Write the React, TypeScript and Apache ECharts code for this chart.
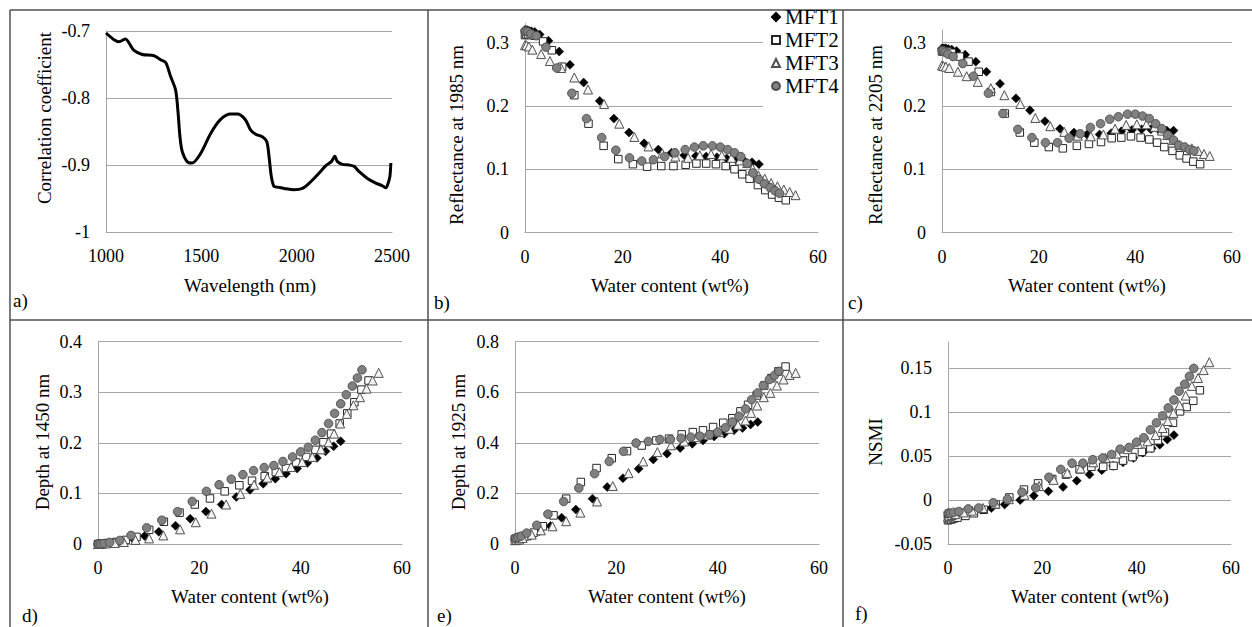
import React, { useEffect, useRef } from "react";
import * as echarts from "echarts";

// ---------- panel a: correlation coefficient vs wavelength ----------
const wavelength = [1000, 1042, 1068, 1103, 1121, 1147, 1190, 1252, 1287, 1313, 1339, 1365, 1378, 1388, 1400, 1426, 1452, 1496, 1549, 1601, 1654, 1689, 1730, 1759, 1785, 1820, 1843, 1855, 1867, 1881, 1899, 1934, 1987, 2030, 2074, 2118, 2153, 2182, 2200, 2214, 2240, 2275, 2301, 2328, 2371, 2415, 2450, 2468, 2480, 2489, 2494];
const correlation = [-0.703, -0.713, -0.716, -0.712, -0.718, -0.729, -0.735, -0.737, -0.743, -0.747, -0.768, -0.788, -0.822, -0.858, -0.880, -0.895, -0.897, -0.883, -0.853, -0.832, -0.824, -0.824, -0.832, -0.848, -0.854, -0.858, -0.865, -0.887, -0.917, -0.932, -0.933, -0.935, -0.937, -0.935, -0.925, -0.912, -0.901, -0.895, -0.887, -0.895, -0.899, -0.900, -0.902, -0.910, -0.920, -0.927, -0.931, -0.934, -0.927, -0.917, -0.897];

// ---------- water content (wt%) per sample set ----------
const waterMFT1 = [0, 0.4, 0.8, 1.3, 2, 3, 4.8, 7, 9.2, 12, 15.3, 18.2, 21.3, 24.4, 27.3, 30, 32.6, 35, 37.1, 39.3, 41.3, 43.2, 44.9, 46.5, 47.9];
const waterMFT2 = [0, 0.3, 0.7, 1.2, 2, 3.7, 5.5, 7.6, 10.1, 13, 16.1, 19.1, 22.1, 25, 27.9, 30.4, 32.9, 35.1, 37.1, 39.1, 41.1, 42.9, 44.5, 46, 47.7, 49.2, 50.6, 52, 53.4];
const waterMFT3 = [0, 0.3, 0.8, 1.5, 3.3, 5.1, 7.4, 10.1, 12.9, 16.2, 19.3, 22.4, 25.3, 28.1, 30.8, 33.4, 35.8, 38.1, 40.3, 42.3, 44, 45.5, 46.6, 47.8, 49.1, 50.4, 51.7, 53, 54.2, 55.4];
const waterMFT4 = [0, 0.2, 0.6, 1.2, 2.3, 4.3, 6.5, 9.6, 12.6, 15.7, 18.6, 21.4, 23.9, 26.3, 28.6, 30.7, 32.8, 34.7, 36.5, 38.4, 40, 41.5, 42.9, 44.2, 45.5, 46.7, 47.9, 49, 50.2, 51.2, 52.1];

// ---------- panel b: reflectance at 1985 nm ----------
const refl1985MFT1 = [0.320, 0.320, 0.319, 0.318, 0.317, 0.313, 0.303, 0.286, 0.265, 0.237, 0.208, 0.180, 0.158, 0.141, 0.131, 0.126, 0.122, 0.121, 0.120, 0.119, 0.117, 0.115, 0.113, 0.111, 0.108];
const refl1985MFT2 = [0.312, 0.313, 0.313, 0.312, 0.311, 0.302, 0.288, 0.262, 0.217, 0.172, 0.137, 0.116, 0.108, 0.104, 0.105, 0.105, 0.107, 0.109, 0.109, 0.108, 0.105, 0.100, 0.092, 0.085, 0.075, 0.067, 0.060, 0.055, 0.051];
const refl1985MFT3 = [0.296, 0.296, 0.294, 0.289, 0.282, 0.271, 0.260, 0.245, 0.226, 0.203, 0.172, 0.151, 0.136, 0.125, 0.120, 0.118, 0.122, 0.124, 0.122, 0.118, 0.114, 0.110, 0.101, 0.090, 0.085, 0.078, 0.073, 0.068, 0.064, 0.059];
const refl1985MFT4 = [0.318, 0.318, 0.317, 0.314, 0.311, 0.293, 0.260, 0.220, 0.180, 0.150, 0.130, 0.118, 0.113, 0.115, 0.120, 0.126, 0.131, 0.135, 0.137, 0.137, 0.135, 0.131, 0.126, 0.120, 0.109, 0.094, 0.084, 0.077, 0.071, 0.066, 0.062];

// ---------- panel c: reflectance at 2205 nm ----------
const refl2205MFT1 = [0.291, 0.291, 0.291, 0.290, 0.289, 0.287, 0.281, 0.270, 0.254, 0.235, 0.212, 0.193, 0.176, 0.164, 0.158, 0.155, 0.155, 0.157, 0.160, 0.162, 0.163, 0.163, 0.162, 0.161, 0.161];
const refl2205MFT2 = [0.286, 0.287, 0.287, 0.286, 0.284, 0.278, 0.270, 0.254, 0.222, 0.188, 0.158, 0.142, 0.135, 0.133, 0.137, 0.140, 0.143, 0.149, 0.150, 0.152, 0.150, 0.147, 0.142, 0.135, 0.129, 0.122, 0.117, 0.112, 0.108];
const refl2205MFT3 = [0.264, 0.263, 0.262, 0.260, 0.254, 0.247, 0.238, 0.228, 0.217, 0.203, 0.181, 0.168, 0.159, 0.153, 0.152, 0.155, 0.164, 0.170, 0.171, 0.171, 0.167, 0.161, 0.154, 0.146, 0.138, 0.135, 0.133, 0.129, 0.124, 0.121];
const refl2205MFT4 = [0.288, 0.287, 0.285, 0.282, 0.278, 0.267, 0.247, 0.220, 0.188, 0.163, 0.150, 0.142, 0.142, 0.149, 0.156, 0.166, 0.172, 0.179, 0.183, 0.187, 0.187, 0.184, 0.180, 0.172, 0.164, 0.154, 0.146, 0.138, 0.135, 0.131, 0.129];

// ---------- panel d: depth at 1450 nm ----------
const depth1450MFT1 = [0, 0.000, 0.001, 0.001, 0.002, 0.003, 0.006, 0.010, 0.016, 0.024, 0.036, 0.050, 0.064, 0.078, 0.093, 0.107, 0.119, 0.129, 0.139, 0.149, 0.160, 0.170, 0.183, 0.193, 0.203];
const depth1450MFT2 = [0, 0, 0.001, 0.001, 0.002, 0.004, 0.008, 0.014, 0.028, 0.044, 0.062, 0.078, 0.090, 0.104, 0.116, 0.125, 0.134, 0.142, 0.150, 0.161, 0.172, 0.186, 0.201, 0.218, 0.238, 0.258, 0.280, 0.305, 0.323];
const depth1450MFT3 = [0, 0, 0.001, 0.001, 0.002, 0.004, 0.008, 0.011, 0.017, 0.029, 0.043, 0.060, 0.078, 0.099, 0.117, 0.131, 0.142, 0.152, 0.162, 0.172, 0.187, 0.201, 0.218, 0.238, 0.257, 0.274, 0.290, 0.307, 0.323, 0.338];
const depth1450MFT4 = [0, 0, 0, 0.001, 0.003, 0.007, 0.017, 0.032, 0.047, 0.064, 0.084, 0.104, 0.117, 0.128, 0.137, 0.145, 0.151, 0.155, 0.163, 0.172, 0.182, 0.191, 0.205, 0.220, 0.238, 0.258, 0.277, 0.295, 0.312, 0.328, 0.344];

// ---------- panel e: depth at 1925 nm ----------
const depth1925MFT1 = [0.015, 0.017, 0.019, 0.021, 0.025, 0.032, 0.050, 0.071, 0.104, 0.136, 0.179, 0.225, 0.260, 0.297, 0.334, 0.357, 0.379, 0.396, 0.409, 0.425, 0.436, 0.449, 0.458, 0.472, 0.482];
const depth1925MFT2 = [0.020, 0.021, 0.022, 0.025, 0.030, 0.045, 0.070, 0.113, 0.179, 0.245, 0.300, 0.339, 0.367, 0.389, 0.409, 0.416, 0.433, 0.442, 0.449, 0.462, 0.479, 0.497, 0.524, 0.550, 0.587, 0.626, 0.655, 0.682, 0.701];
const depth1925MFT3 = [0.015, 0.016, 0.018, 0.024, 0.037, 0.054, 0.070, 0.090, 0.124, 0.168, 0.229, 0.280, 0.326, 0.363, 0.390, 0.405, 0.422, 0.432, 0.442, 0.455, 0.471, 0.488, 0.518, 0.547, 0.580, 0.597, 0.626, 0.650, 0.668, 0.676];
const depth1925MFT4 = [0.022, 0.024, 0.027, 0.031, 0.043, 0.074, 0.118, 0.168, 0.221, 0.278, 0.326, 0.366, 0.399, 0.405, 0.413, 0.413, 0.418, 0.422, 0.426, 0.432, 0.442, 0.459, 0.482, 0.505, 0.534, 0.570, 0.597, 0.626, 0.650, 0.666, 0.682];

// ---------- panel f: NSMI ----------
const nsmiMFT1 = [-0.018, -0.018, -0.017, -0.017, -0.016, -0.015, -0.013, -0.011, -0.009, -0.005, 0.000, 0.005, 0.010, 0.015, 0.022, 0.029, 0.034, 0.039, 0.043, 0.048, 0.054, 0.059, 0.063, 0.069, 0.074];
const nsmiMFT2 = [-0.023, -0.022, -0.022, -0.021, -0.020, -0.018, -0.015, -0.011, -0.005, 0.003, 0.012, 0.019, 0.024, 0.029, 0.035, 0.038, 0.038, 0.039, 0.045, 0.049, 0.055, 0.059, 0.068, 0.077, 0.088, 0.101, 0.106, 0.113, 0.125];
const nsmiMFT3 = [-0.019, -0.018, -0.017, -0.016, -0.014, -0.012, -0.009, -0.004, 0.001, 0.006, 0.016, 0.023, 0.031, 0.036, 0.043, 0.048, 0.053, 0.058, 0.064, 0.067, 0.074, 0.082, 0.090, 0.099, 0.108, 0.119, 0.130, 0.139, 0.148, 0.157];
const nsmiMFT4 = [-0.015, -0.015, -0.015, -0.014, -0.013, -0.010, -0.009, -0.003, 0.001, 0.009, 0.014, 0.026, 0.035, 0.042, 0.042, 0.046, 0.048, 0.052, 0.058, 0.060, 0.066, 0.071, 0.080, 0.088, 0.096, 0.105, 0.114, 0.124, 0.132, 0.141, 0.150];

const seriesNames = ["MFT1", "MFT2", "MFT3", "MFT4"];
const panelLabels = ["a)", "b)", "c)", "d)", "e)", "f)"];
const yTitles = ["Correlation coefficient", "Reflectance at 1985 nm", "Reflectance at 2205 nm", "Depth at 1450 nm", "Depth at 1925 nm", "NSMI"];
const xTitles = ["Wavelength (nm)", "Water content (wt%)", "Water content (wt%)", "Water content (wt%)", "Water content (wt%)", "Water content (wt%)"];

const FONT = "Liberation Serif";
const GRID_COLOR = "#a6a6a6";
const FRAME_COLOR = "#505050";

const zip = (xs: number[], ys: number[]) => ys.map((y, i) => [xs[i], y]);

export default function App() {
  const ref = useRef<HTMLDivElement>(null);

  useEffect(() => {
    if (!ref.current) return;
    const chart = echarts.init(ref.current, undefined, { renderer: "svg" });

    const grids = [
      { left: 106, top: 31, width: 286, height: 201 },
      { left: 525, top: 23.7, width: 293, height: 208.8 },
      { left: 942, top: 30, width: 290, height: 202.5 },
      { left: 98, top: 341.5, width: 304, height: 202.5 },
      { left: 515, top: 341.5, width: 304, height: 202.5 },
      { left: 948, top: 342, width: 283, height: 202 },
    ];
    const yRanges = [
      { min: -1, max: -0.7, interval: 0.1, topLine: true },
      { min: 0, max: 0.33, interval: 0.1, topLine: false },
      { min: 0, max: 0.32, interval: 0.1, topLine: false },
      { min: 0, max: 0.4, interval: 0.1, topLine: true },
      { min: 0, max: 0.8, interval: 0.2, topLine: true },
      { min: -0.05, max: 0.18, interval: 0.05, topLine: false },
    ];

    const labelStyle = { color: "#000", fontFamily: FONT, fontSize: 18 };
    const plain = (v: number) => String(Math.round(v * 1000) / 1000);

    const xAxes = grids.map((_, i) => ({
      type: "value",
      gridIndex: i,
      min: i === 0 ? 1000 : 0,
      max: i === 0 ? 2500 : 60,
      interval: i === 0 ? 500 : 20,
      axisLine: { show: true, onZero: false, lineStyle: { color: GRID_COLOR, width: 1 } },
      axisTick: { show: false },
      splitLine: { show: false },
      axisLabel: { ...labelStyle, margin: 15, formatter: plain },
    }));

    const yAxes = yRanges.map((r, i) => ({
      type: "value",
      gridIndex: i,
      min: r.min,
      max: r.max,
      interval: r.interval,
      axisLine: { show: true, onZero: false, lineStyle: { color: GRID_COLOR, width: 1 } },
      axisTick: { show: false },
      splitLine: { show: true, showMaxLine: r.topLine, lineStyle: { color: GRID_COLOR, width: 1 } },
      axisLabel: { ...labelStyle, margin: 16, showMaxLabel: r.topLine ? true : false, formatter: plain },
    }));

    const waters = [waterMFT1, waterMFT2, waterMFT3, waterMFT4];
    const panelData = [
      [refl1985MFT1, refl1985MFT2, refl1985MFT3, refl1985MFT4],
      [refl2205MFT1, refl2205MFT2, refl2205MFT3, refl2205MFT4],
      [depth1450MFT1, depth1450MFT2, depth1450MFT3, depth1450MFT4],
      [depth1925MFT1, depth1925MFT2, depth1925MFT3, depth1925MFT4],
      [nsmiMFT1, nsmiMFT2, nsmiMFT3, nsmiMFT4],
    ];
    const markerStyles = [
      { symbol: "diamond", symbolSize: 9, itemStyle: { color: "#000", borderColor: "#000", borderWidth: 0.5, opacity: 1 } },
      { symbol: "rect", symbolSize: 7.5, itemStyle: { color: "#fff", borderColor: "#262626", borderWidth: 1, opacity: 1 } },
      { symbol: "triangle", symbolSize: 9, itemStyle: { color: "#f4f4f4", borderColor: "#505050", borderWidth: 1, opacity: 1 } },
      { symbol: "circle", symbolSize: 8.5, itemStyle: { color: "#808080", borderColor: "#505050", borderWidth: 1, opacity: 1 } },
    ];

    const series: any[] = [
      {
        type: "line",
        xAxisIndex: 0,
        yAxisIndex: 0,
        data: zip(wavelength, correlation),
        showSymbol: false,
        smooth: 0.3,
        lineStyle: { color: "#000", width: 3 },
      },
    ];
    panelData.forEach((sets, p) => {
      sets.forEach((ys, s) => {
        series.push({
          type: "scatter",
          name: seriesNames[s],
          xAxisIndex: p + 1,
          yAxisIndex: p + 1,
          data: zip(waters[s], ys),
          ...markerStyles[s],
        });
      });
    });

    const yTitlePos = [
      [44, 118], [456, 135], [875, 135], [42, 442], [458, 442], [875, 442],
    ];
    const xTitlePos = [
      [250, 285], [670, 285], [1087, 285], [250, 596], [667, 596], [1090, 596],
    ];
    const panelLabelPos = [
      [13, 300], [434, 302], [848, 302], [22, 615], [437, 615], [855, 613],
    ];
    const textStyle = (t: string, align: string) => ({
      text: t,
      fontFamily: FONT,
      fontSize: 19,
      fill: "#000",
      align,
      verticalAlign: "middle",
    });

    const graphics: any[] = [];
    const frameLines = [
      [10, 10, 1252, 10],
      [10, 10, 10, 627],
      [428, 10, 428, 627],
      [843, 10, 843, 627],
      [10, 320, 1252, 320],
    ];
    frameLines.forEach(([x1, y1, x2, y2]) =>
      graphics.push({
        type: "line",
        shape: { x1, y1, x2, y2 },
        style: { stroke: FRAME_COLOR, lineWidth: 1.5 },
        z: 5,
      })
    );
    yTitles.forEach((t, i) =>
      graphics.push({
        type: "text",
        x: yTitlePos[i][0],
        y: yTitlePos[i][1],
        rotation: Math.PI / 2,
        style: textStyle(t, "center"),
      })
    );
    xTitles.forEach((t, i) =>
      graphics.push({
        type: "text",
        x: xTitlePos[i][0],
        y: xTitlePos[i][1],
        style: textStyle(t, "center"),
      })
    );
    panelLabels.forEach((t, i) =>
      graphics.push({
        type: "text",
        x: panelLabelPos[i][0],
        y: panelLabelPos[i][1],
        style: textStyle(t, "left"),
      })
    );
    graphics.push({
      type: "rect",
      shape: { x: 763, y: 11, width: 79, height: 101 },
      style: { fill: "#fff" },
      z: 10,
    });

    chart.setOption({
      animation: false,
      backgroundColor: "#fff",
      textStyle: { fontFamily: FONT },
      grid: grids,
      xAxis: xAxes,
      yAxis: yAxes,
      series,
      legend: {
        data: seriesNames,
        orient: "vertical",
        left: 771,
        top: 6,
        itemWidth: 8,
        itemHeight: 8,
        itemGap: 1,
        padding: 0,
        z: 20,
        textStyle: { color: "#000", fontFamily: FONT, fontSize: 21, lineHeight: 22 },
      },
      graphic: { elements: graphics },
    });

    return () => chart.dispose();
  }, []);

  return (
    <div
      ref={ref}
      style={{ position: "absolute", left: 0, top: 0, width: 1252, height: 627 }}
    />
  );
}
